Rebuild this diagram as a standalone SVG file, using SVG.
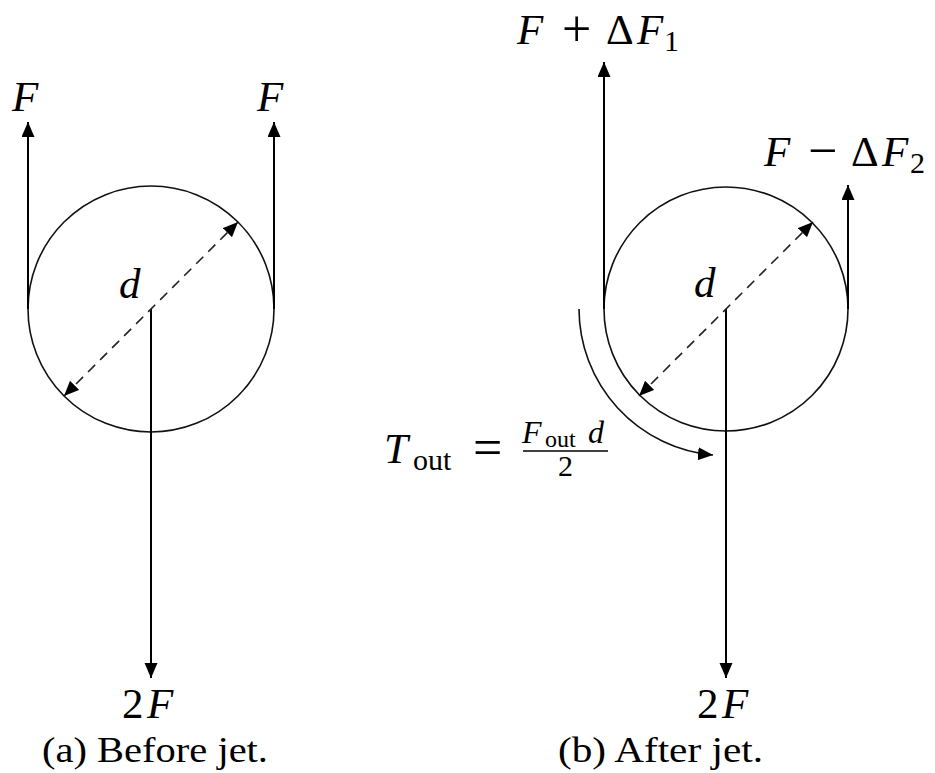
<svg xmlns="http://www.w3.org/2000/svg" width="935" height="773" viewBox="0 0 935 773">
<style>
.bg{fill:#fff}
.wheel{fill:none;stroke:#111;stroke-width:1.6}
.force{fill:none;stroke:#000;stroke-width:2;marker-end:url(#ah)}
.dia{fill:none;stroke:#222;stroke-width:1.6;stroke-dasharray:10 7;marker-start:url(#ah2);marker-end:url(#ah)}
.torque{fill:none;stroke:#111;stroke-width:1.6;marker-end:url(#ah)}
.m{font-family:"Liberation Serif","DejaVu Serif",serif;font-style:italic;font-size:43px;fill:#000}
.r{font-family:"Liberation Serif","DejaVu Serif",serif;font-style:normal;font-size:43px;fill:#000}
.op{font-family:"Liberation Serif","DejaVu Serif",serif;font-style:normal;font-size:52px;fill:#000}
.sub{font-family:"Liberation Serif","DejaVu Serif",serif;font-style:normal;font-size:30px;fill:#000}
.fs{font-family:"Liberation Serif","DejaVu Serif",serif;font-style:normal;font-size:24px;fill:#000}
.sm{font-family:"Liberation Serif","DejaVu Serif",serif;font-style:italic;font-size:32px;fill:#000}
.cap{font-family:"Liberation Serif","DejaVu Serif",serif;font-size:36px;fill:#000}
</style>
<defs>
<marker id="ah" markerUnits="userSpaceOnUse" markerWidth="16" markerHeight="14" refX="15" refY="6.5" orient="auto">
<path d="M0,0 L15,6.5 L0,13 z" fill="#000"/>
</marker>
<marker id="ah2" markerUnits="userSpaceOnUse" markerWidth="16" markerHeight="14" refX="15" refY="6.5" orient="auto-start-reverse">
<path d="M0,0 L15,6.5 L0,13 z" fill="#000"/>
</marker>
</defs>
<rect class="bg" x="0" y="0" width="935" height="773"/>

<g id="panel-a">
<g id="wheel-a">
<circle class="wheel" cx="151" cy="309" r="123"/>
<text class="m" x="119" y="298">d</text>
</g>
<g id="force-a-left">
<text class="m" x="12" y="111">F</text>
</g>
<g id="force-a-right">
<text class="m" x="257" y="111">F</text>
</g>
<g id="load-a">
<text x="122" y="718"><tspan class="r">2</tspan><tspan class="m" x="147">F</tspan></text>
</g>
<g id="caption-a">
<text class="cap" x="42" y="762" textLength="226" lengthAdjust="spacingAndGlyphs">(a) Before jet.</text>
</g>
</g>

<g id="panel-b">
<g id="wheel-b">
<circle class="wheel" cx="726" cy="309" r="122"/>
<text class="m" x="694" y="297">d</text>
</g>
<g id="force-b-left">
<text y="44"><tspan class="m" x="517">F</tspan><tspan class="op" x="562" dy="2">+</tspan><tspan class="r" x="606" dy="-2">Δ</tspan><tspan class="m" x="637">F</tspan><tspan class="sub" x="664" dy="7">1</tspan></text>
</g>
<g id="force-b-right">
<text y="166"><tspan class="m" x="764">F</tspan><tspan class="op" x="808" dy="2">−</tspan><tspan class="r" x="851" dy="-2">Δ</tspan><tspan class="m" x="882">F</tspan><tspan class="sub" x="910" dy="7">2</tspan></text>
</g>
<g id="torque">
<text y="463"><tspan class="m" x="384">T</tspan><tspan class="sub" x="413" dy="7">out</tspan><tspan class="op" x="473" dy="-5">=</tspan></text>
<text y="443"><tspan class="sm" x="522">F</tspan><tspan class="fs" x="545" dy="4">out</tspan><tspan class="sm" x="588" dy="-4">d</tspan></text>
<line x1="523" y1="451" x2="608" y2="451" stroke="#000" stroke-width="1.4"/>
<text class="sub" x="558" y="476">2</text>
</g>
<g id="load-b">
<text x="697" y="718"><tspan class="r">2</tspan><tspan class="m" x="722">F</tspan></text>
</g>
<g id="caption-b">
<text class="cap" x="558" y="762" textLength="205" lengthAdjust="spacingAndGlyphs">(b) After jet.</text>
</g>
</g>

<g id="connectors">
<line class="force" x1="28" y1="309" x2="28" y2="122"/>
<line class="force" x1="274" y1="309" x2="274" y2="122"/>
<line class="force" x1="151" y1="309" x2="151" y2="678"/>
<line class="dia" x1="64" y1="396" x2="238" y2="222"/>
<line class="force" x1="604" y1="309" x2="604" y2="62"/>
<line class="force" x1="848" y1="309" x2="848" y2="185"/>
<line class="force" x1="726" y1="309" x2="726" y2="678"/>
<line class="dia" x1="639" y1="396" x2="813" y2="222"/>
<path class="torque" d="M579 309 A147 147 0 0 0 713 455"/>
</g>
</svg>
